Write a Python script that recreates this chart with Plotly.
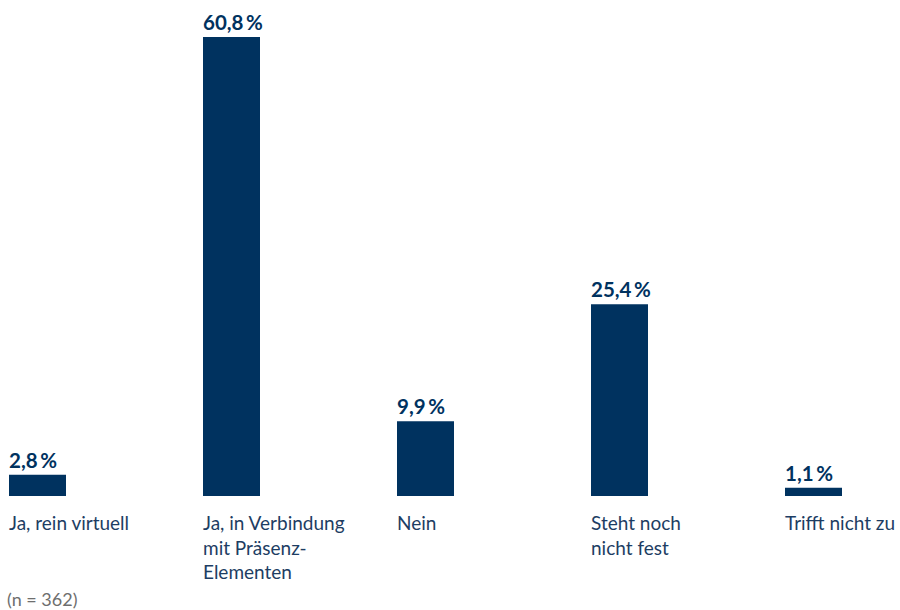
import plotly.graph_objects as go

categories = ["Ja, rein virtuell", "Ja, in Verbindung<br>mit Präsenz-<br>Elementen", "Nein",
              "Steht noch<br>nicht fest", "Trifft nicht zu"]
values = [2.8, 60.8, 9.9, 25.4, 1.1]
value_labels = ["2,8\u2009%", "60,8\u2009%", "9,9\u2009%", "25,4\u2009%", "1,1\u2009%"]
note = "(n = 362)"

BAR = "#00325f"
TXT = "#1d3d63"
FONT = "Source Sans Pro, Lato, Noto Sans, sans-serif"
W = 57 / 194

xs = list(range(len(values)))
fig = go.Figure(go.Bar(x=xs, y=values, width=W, marker_color=BAR, marker_line_width=0,
                       hoverinfo="skip"))

for i, (v, lab, cat) in enumerate(zip(values, value_labels, categories)):
    fig.add_annotation(x=i - W / 2, y=v, text=f"<b>{lab}</b>", xanchor="left", yanchor="bottom",
                       showarrow=False, yshift=1, xshift=-2,
                       font=dict(family=FONT, size=20.5, color=BAR), align="left")
    fig.add_annotation(x=i - W / 2, y=0, text=cat, xanchor="left", yanchor="top",
                       showarrow=False, yshift=-13, xshift=-2,
                       font=dict(family=FONT, size=19, color=TXT), align="left")

fig.add_annotation(x=0, y=1, xref="paper", yref="paper", text=note, showarrow=False,
                   xanchor="left", yanchor="top", xshift=5, yshift=-(496 + 90),
                   font=dict(family=FONT, size=18, color="#6e6e6e"))

fig.update_layout(
    width=900, height=610, margin=dict(l=0, r=0, t=0, b=114),
    plot_bgcolor="white", paper_bgcolor="white", showlegend=False,
    xaxis=dict(range=[-37.5 / 194, (900 - 37.5) / 194], visible=False, fixedrange=True),
    yaxis=dict(range=[0, 496 / (459 / 60.8)], visible=False, fixedrange=True),
)
fig.write_html("out.html")
